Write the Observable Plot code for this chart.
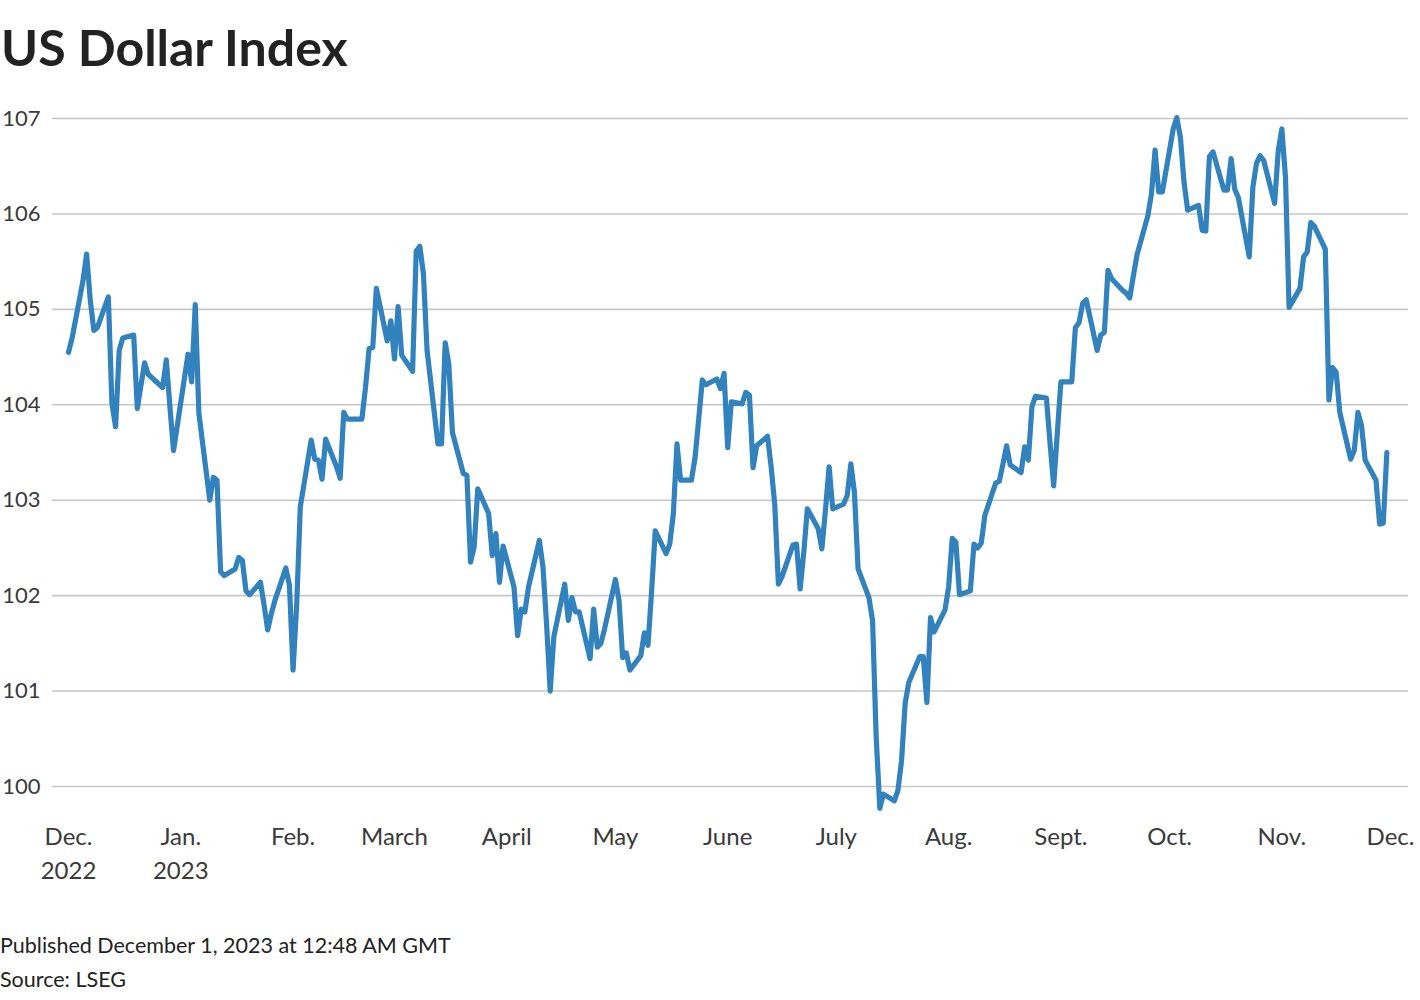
<!DOCTYPE html>
<html>
<head>
<meta charset="utf-8">
<script src="https://cdn.jsdelivr.net/npm/d3@7"></script>
<script src="https://cdn.jsdelivr.net/npm/@observablehq/plot@0.6"></script>
<style>
  html, body { margin: 0; padding: 0; background: #fff; }
  body { width: 1420px; height: 1000px; position: relative; font-family: Lato, "Noto Sans", sans-serif; color: #222; overflow: hidden; }
  #title { position: absolute; left: 1px; top: 22px; font-size: 50px; font-weight: 700; line-height: 1; color: #222; white-space: nowrap; }
  #chart { position: absolute; left: 0; top: 90px; }
  .cap { position: absolute; left: 0; font-size: 21.5px; line-height: 1; color: #222; white-space: nowrap; }
</style>
</head>
<body>
<div id="title">US Dollar Index</div>
<div id="chart"></div>
<div class="cap" id="cap1" style="top:935px">Published December 1, 2023 at 12:48 AM GMT</div>
<div class="cap" id="cap2" style="top:969px">Source: LSEG</div>
<script>
// ---- data ----
const dates = [
  "2022-12-01","2022-12-02","2022-12-05","2022-12-06","2022-12-07","2022-12-08","2022-12-09",
  "2022-12-12","2022-12-13","2022-12-14","2022-12-15","2022-12-16","2022-12-19","2022-12-20",
  "2022-12-21","2022-12-22","2022-12-23","2022-12-27","2022-12-28","2022-12-29","2022-12-30",
  "2023-01-03","2023-01-04","2023-01-05","2023-01-06","2023-01-09","2023-01-10","2023-01-11",
  "2023-01-12","2023-01-13","2023-01-16","2023-01-17","2023-01-18","2023-01-19","2023-01-20",
  "2023-01-23","2023-01-24","2023-01-25","2023-01-26","2023-01-27","2023-01-30","2023-01-31",
  "2023-02-01","2023-02-02","2023-02-03","2023-02-06","2023-02-07","2023-02-08","2023-02-09",
  "2023-02-10","2023-02-13","2023-02-14","2023-02-15","2023-02-16","2023-02-17","2023-02-20",
  "2023-02-21","2023-02-22","2023-02-23","2023-02-24","2023-02-27","2023-02-28","2023-03-01",
  "2023-03-02","2023-03-03","2023-03-06","2023-03-07","2023-03-08","2023-03-09","2023-03-10",
  "2023-03-13","2023-03-14","2023-03-15","2023-03-16","2023-03-17","2023-03-20","2023-03-21",
  "2023-03-22","2023-03-23","2023-03-24","2023-03-27","2023-03-28","2023-03-29","2023-03-30",
  "2023-03-31","2023-04-03","2023-04-04","2023-04-05","2023-04-06","2023-04-07","2023-04-10",
  "2023-04-11","2023-04-12","2023-04-13","2023-04-14","2023-04-17","2023-04-18","2023-04-19",
  "2023-04-20","2023-04-21","2023-04-24","2023-04-25","2023-04-26","2023-04-27","2023-04-28",
  "2023-05-01","2023-05-02","2023-05-03","2023-05-04","2023-05-05","2023-05-08","2023-05-09",
  "2023-05-10","2023-05-11","2023-05-12","2023-05-15","2023-05-16","2023-05-17","2023-05-18",
  "2023-05-19","2023-05-22","2023-05-23","2023-05-24","2023-05-25","2023-05-26","2023-05-29",
  "2023-05-30","2023-05-31","2023-06-01","2023-06-02","2023-06-05","2023-06-06","2023-06-07",
  "2023-06-08","2023-06-09","2023-06-12","2023-06-13","2023-06-14","2023-06-15","2023-06-16",
  "2023-06-19","2023-06-20","2023-06-21","2023-06-22","2023-06-23","2023-06-26","2023-06-27",
  "2023-06-28","2023-06-29","2023-06-30","2023-07-03","2023-07-04","2023-07-05","2023-07-06",
  "2023-07-07","2023-07-10","2023-07-11","2023-07-12","2023-07-13","2023-07-14","2023-07-17",
  "2023-07-18","2023-07-19","2023-07-20","2023-07-21","2023-07-24","2023-07-25","2023-07-26",
  "2023-07-27","2023-07-28","2023-07-31","2023-08-01","2023-08-02","2023-08-03","2023-08-04",
  "2023-08-07","2023-08-08","2023-08-09","2023-08-10","2023-08-11","2023-08-14","2023-08-15",
  "2023-08-16","2023-08-17","2023-08-18","2023-08-21","2023-08-22","2023-08-23","2023-08-24",
  "2023-08-25","2023-08-28","2023-08-29","2023-08-30","2023-08-31","2023-09-01","2023-09-04",
  "2023-09-05","2023-09-06","2023-09-07","2023-09-08","2023-09-11","2023-09-12","2023-09-13",
  "2023-09-14","2023-09-15","2023-09-18","2023-09-19","2023-09-20","2023-09-21","2023-09-22",
  "2023-09-25","2023-09-26","2023-09-27","2023-09-28","2023-09-29","2023-10-02","2023-10-03",
  "2023-10-04","2023-10-05","2023-10-06","2023-10-09","2023-10-10","2023-10-11","2023-10-12",
  "2023-10-13","2023-10-16","2023-10-17","2023-10-18","2023-10-19","2023-10-20","2023-10-23",
  "2023-10-24","2023-10-25","2023-10-26","2023-10-27","2023-10-30","2023-10-31","2023-11-01",
  "2023-11-02","2023-11-03","2023-11-06","2023-11-07","2023-11-08","2023-11-09","2023-11-10",
  "2023-11-13","2023-11-14","2023-11-15","2023-11-16","2023-11-17","2023-11-20","2023-11-21",
  "2023-11-22","2023-11-23","2023-11-24","2023-11-27","2023-11-28","2023-11-29","2023-11-30"
];
const values = [
  104.55,104.70,105.30,105.58,105.10,104.78,104.81,
  105.13,104.01,103.77,104.57,104.70,104.73,103.96,
  104.20,104.44,104.32,104.18,104.47,103.98,103.52,
  104.53,104.24,105.05,103.91,103.00,103.24,103.21,
  102.25,102.21,102.28,102.40,102.37,102.05,102.01,
  102.14,101.90,101.64,101.81,101.95,102.29,102.11,
  101.22,101.90,102.93,103.63,103.43,103.42,103.22,
  103.64,103.35,103.23,103.92,103.85,103.85,103.85,
  104.18,104.59,104.60,105.22,104.67,104.88,104.48,
  105.03,104.52,104.35,105.61,105.66,105.37,104.57,
  103.59,103.59,104.65,104.43,103.71,103.28,103.26,
  102.35,102.51,103.12,102.86,102.42,102.65,102.14,
  102.52,102.09,101.58,101.86,101.83,102.09,102.58,
  102.30,101.70,101.00,101.57,102.12,101.74,101.98,
  101.83,101.83,101.34,101.86,101.46,101.50,101.65,
  102.17,101.95,101.35,101.40,101.22,101.37,101.61,
  101.48,102.05,102.68,102.44,102.54,102.86,103.59,
  103.21,103.21,103.45,103.85,104.26,104.21,104.27,
  104.17,104.33,103.55,104.03,104.01,104.13,104.10,
  103.34,103.57,103.67,103.35,102.95,102.12,102.20,
  102.53,102.54,102.07,102.45,102.91,102.70,102.49,
  102.90,103.35,102.91,102.96,103.05,103.38,103.08,
  102.28,101.98,101.74,100.52,99.77,99.92,99.85,
  99.96,100.27,100.87,101.09,101.36,101.36,100.88,
  101.77,101.62,101.85,102.09,102.60,102.56,102.01,
  102.05,102.54,102.50,102.55,102.84,103.18,103.20,
  103.38,103.57,103.37,103.29,103.56,103.42,103.98,
  104.09,104.07,103.60,103.15,103.70,104.24,104.24,
  104.81,104.86,105.06,105.10,104.57,104.73,104.76,
  105.41,105.32,105.20,105.17,105.12,105.35,105.57,
  105.98,106.21,106.67,106.23,106.23,106.89,107.01,
  106.80,106.33,106.04,106.09,105.83,105.82,106.60,
  106.65,106.25,106.25,106.58,106.26,106.17,105.55,
  106.28,106.53,106.61,106.56,106.11,106.66,106.89,
  106.39,105.02,105.22,105.55,105.60,105.91,105.87,
  105.63,104.05,104.39,104.34,103.92,103.43,103.52,
  103.92,103.78,103.42,103.21,102.75,102.76,103.50
];
const yTicks = [100, 101, 102, 103, 104, 105, 106, 107];
const xTickDates = ["2022-12-01","2023-01-01","2023-02-01","2023-03-01","2023-04-01","2023-05-01","2023-06-01","2023-07-01","2023-08-01","2023-09-01","2023-10-01","2023-11-01","2023-12-01"];
const xTickLabels = ["Dec.\n2022","Jan.\n2023","Feb.","March","April","May","June","July","Aug.","Sept.","Oct.","Nov.","Dec."];

// ---- build ----
const parse = d3.utcParse("%Y-%m-%d");
const data = dates.map((d, i) => ({date: parse(d), value: values[i]}));
const tickDates = xTickDates.map(parse);
const labelOf = new Map(tickDates.map((d, i) => [+d, xTickLabels[i]]));

const chart = Plot.plot({
  width: 1420,
  height: 800,
  marginTop: 28,
  marginBottom: 104,
  marginLeft: 52,
  marginRight: 12,
  style: {fontFamily: 'Lato, "Noto Sans", sans-serif', background: "#fff", color: "#333"},
  x: {type: "utc", domain: [parse("2022-12-01"), parse("2023-12-01")], insetLeft: 16, insetRight: 18},
  y: {domain: [100, 107]},
  marks: [
    Plot.gridY(yTicks, {stroke: "#c6c6c6", strokeOpacity: 1, strokeWidth: 1.6}),
    Plot.axisY(yTicks, {tickSize: 0, tickPadding: 12, fontSize: 22, fill: "#3a3a3a", label: null, tickFormat: d => String(d)}),
    Plot.axisX(tickDates, {tickSize: 0, tickPadding: 34, fontSize: 24, fill: "#3a3a3a", label: null, lineHeight: 1.42, tickFormat: d => labelOf.get(+d)}),
    Plot.line(data, {x: "date", y: "value", stroke: "#3282bd", strokeWidth: 5.2, strokeLinejoin: "round", strokeLinecap: "round"})
  ]
});
document.getElementById("chart").appendChild(chart);
</script>
</body>
</html>
